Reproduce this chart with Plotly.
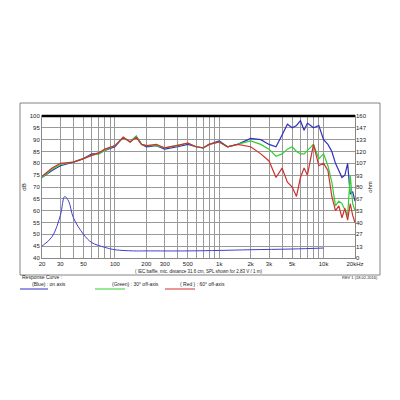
import plotly.graph_objects as go
import numpy as np

freq = [20,25,30,40,50,60,70,80,100,120,140,160,180,200,250,300,400,500,600,700,800,1000,1200,1500,2000,2500,3000,3500,4000,4500,5000,5500,6000,6500,7000,8000,9000,10000,11000,12000,13000,14000,15000,16000,17000,18000,19000,20000]
blue = [74,77,79,80.5,82,84,84,85.5,87,91,89,91.5,88,87,87.5,86,87,88,87,86.5,88,89.5,87,88,90.5,90,88,87,92,96.5,95,96,98,94,97,95,96,90,88,85,80,77,74,75,80,67,68,64]
green = [74,77.5,79.5,80.5,82,83.5,84,85.5,87.5,91,89,91.5,88,87.5,87.5,86.5,87.5,88.5,87,86.5,88,89,87,88,89.5,88,86,83,84,86,87,85,84,84,85.5,88,82,84,79,72,62,64,63,60,58,75,63,60]
red = [74.5,78,80,80.5,82,83.5,84.5,86,87.5,91,89,91,88,87.5,88,86.5,87.5,88.5,87,86.5,88,89,87,88,87,84,81,74,78,72,70,66,74,78,75,88,79,80,77,66,60,62,57,61,56,63,58,55]
imp_f = [20,25,30,33,36,40,50,60,80,100,150,200,500,1000,2000,5000,10000]
imp_db = [45,49,58,66,64,57,50,46.5,44.5,43.5,43,43,43,43.2,43.5,43.8,44.2]
imp_ohm = [(v-40)*160/60 for v in imp_db]

grid_f = [f*m for f in (10,100,1000,10000) for m in range(1,10) if 20 <= f*m <= 20000]
lab = {20:"20",30:"30",50:"50",100:"100",200:"200",300:"300",500:"500",1000:"1k",2000:"2k",3000:"3k",5000:"5k",10000:"10k",20000:"20kHz"}
ticktext = [lab.get(f, "") for f in grid_f]
db_ticks = list(range(40,101,5))
ohm_ticks = [0,13,27,40,53,67,80,93,107,120,133,147,160]

fig = go.Figure()
fig.add_trace(go.Scatter(x=freq, y=blue, mode="lines", line=dict(color="#3030c0", width=1.2)))
fig.add_trace(go.Scatter(x=freq, y=green, mode="lines", line=dict(color="#30d030", width=1.2)))
fig.add_trace(go.Scatter(x=freq, y=red, mode="lines", line=dict(color="#d03030", width=1.2)))
fig.add_trace(go.Scatter(x=imp_f, y=imp_ohm, mode="lines", yaxis="y2", line=dict(color="#4040d0", width=1), line_shape="spline"))

def px(x): return (x-42)/313
def py(y): return (258-y)/142

fig.update_layout(
    width=400, height=400, showlegend=False, plot_bgcolor="white", paper_bgcolor="white",
    margin=dict(l=34, r=53, t=108, b=150),
    font=dict(family="Liberation Sans", size=6, color="#222"),
    xaxis=dict(type="log", range=[np.log10(20), np.log10(20000)], tickvals=grid_f, ticktext=ticktext,
               showgrid=True, gridcolor="#999", gridwidth=0.8, ticks="", tickfont=dict(size=6), automargin=False,
               showline=True, linecolor="#888", mirror=True),
    yaxis=dict(range=[40,100], tickvals=db_ticks, showgrid=True, gridcolor="#999", gridwidth=0.8, automargin=False,
               tickfont=dict(size=6), title=dict(text="dB", font=dict(size=6), standoff=2),
               showline=True, linecolor="#888", mirror=True, zeroline=False),
    yaxis2=dict(range=[0,160], tickvals=ohm_ticks, overlaying="y", side="right", showgrid=False, automargin=False,
                tickfont=dict(size=6), title=dict(text="ohm", font=dict(size=6), standoff=2), zeroline=False),
    shapes=[
        dict(type="rect", xref="paper", yref="paper", x0=px(20), x1=px(380), y0=py(275), y1=py(103), line=dict(color="#666", width=0.8)),
        dict(type="line", xref="paper", yref="paper", x0=0, x1=1, y0=1, y1=1, line=dict(color="black", width=2.5)),
        dict(type="line", xref="paper", yref="paper", x0=px(20), x1=px(48), y0=py(289), y1=py(289), line=dict(color="#3030c0", width=1)),
        dict(type="line", xref="paper", yref="paper", x0=px(95), x1=px(125), y0=py(289), y1=py(289), line=dict(color="#30d030", width=1)),
        dict(type="line", xref="paper", yref="paper", x0=px(165), x1=px(195), y0=py(289), y1=py(289), line=dict(color="#d03030", width=1)),
    ],
    annotations=[
        dict(text="( IEC baffle, mic. distance 31.6 cm, SPL shown for 2.83 V / 1 m)", xref="paper", yref="paper",
             x=0.5, y=py(271), yanchor="middle", showarrow=False, font=dict(size=4.5)),
        dict(text="Response Curve :", xref="paper", yref="paper", x=px(20), y=py(282), xanchor="left", showarrow=False, font=dict(size=5)),
        dict(text="REV 1 (18.02.2016)", xref="paper", yref="paper", x=px(380), y=py(282), xanchor="right", showarrow=False, font=dict(size=4)),
        dict(text="(Blue) : on axis", xref="paper", yref="paper", x=px(30), y=py(289), xanchor="left", showarrow=False, font=dict(size=5)),
        dict(text="(Green) : 30° off-axis", xref="paper", yref="paper", x=px(110), y=py(289), xanchor="left", showarrow=False, font=dict(size=5)),
        dict(text="( Red ) : 60° off-axis", xref="paper", yref="paper", x=px(178), y=py(289), xanchor="left", showarrow=False, font=dict(size=5)),
    ],
)
fig.write_html("out.html")
